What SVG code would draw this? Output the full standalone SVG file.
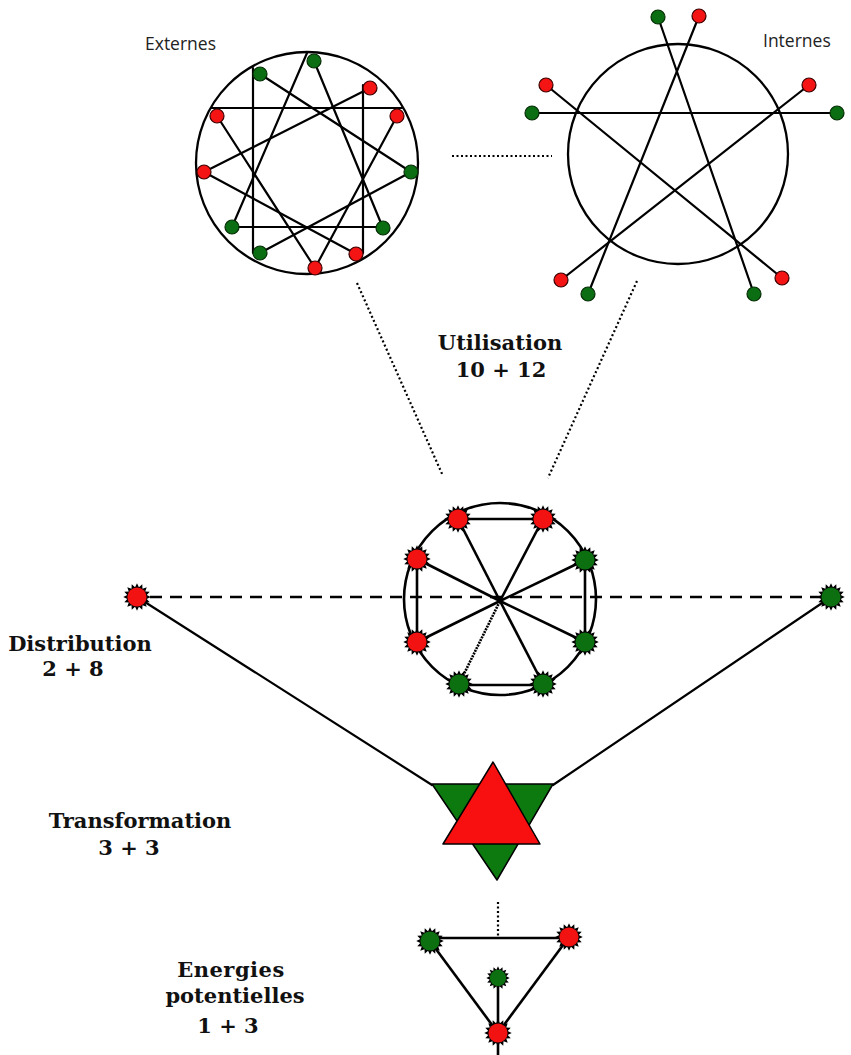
<svg xmlns="http://www.w3.org/2000/svg" xmlns:xlink="http://www.w3.org/1999/xlink" width="851" height="1055" viewBox="0 0 851 1055">
<style>
.ln{stroke:#000;stroke-width:2.2;fill:none;stroke-linecap:round}
.thick{stroke:#000;stroke-width:2.6;fill:none}
.dot{stroke:#000;stroke-width:2.2;fill:none;stroke-dasharray:2 2.5}
.ring{stroke:#000;stroke-width:2.3;fill:none}
.r{fill:#f41414;stroke:#3a0000;stroke-width:1.2}
.g{fill:#0b6e12;stroke:#062d06;stroke-width:1.2}
.lbl{font-family:"DejaVu Serif",serif;font-weight:bold;font-size:21px;fill:#111;text-anchor:middle}
.sans{font-family:"Open Sans","Liberation Sans",sans-serif;font-size:17.5px;fill:#222}
</style>
<defs>
<polygon id="burst" fill="#000" transform="scale(1.1)" points="12.5,0 8.83,1.76 11.55,4.78 7.48,5 8.84,8.84 5,7.48 4.78,11.55 1.76,8.83 0,12.5 -1.76,8.83 -4.78,11.55 -5,7.48 -8.84,8.84 -7.48,5 -11.55,4.78 -8.83,1.76 -12.5,0 -8.83,-1.76 -11.55,-4.78 -7.48,-5 -8.84,-8.84 -5,-7.48 -4.78,-11.55 -1.76,-8.83 0,-12.5 1.76,-8.83 4.78,-11.55 5,-7.48 8.84,-8.84 7.48,-5 11.55,-4.78 8.83,-1.76"/>
<g id="sr"><use href="#burst"/><circle r="9.6" fill="#f21212"/></g>
<g id="sg"><use href="#burst"/><circle r="9.6" fill="#0d7010"/></g>
</defs>
<rect width="851" height="1055" fill="#fff"/>

<g id="connectors">
<line class="dot" x1="452" y1="156" x2="552" y2="156"/>
<line class="dot" x1="357" y1="283" x2="443" y2="476"/>
<line class="dot" x1="637" y1="281" x2="548" y2="478"/>
<line class="thick" x1="150" y1="597" x2="822" y2="597" stroke-dasharray="12 8"/>
<line class="ln" stroke-width="1.5" x1="137" y1="597" x2="432" y2="785"/>
<line class="ln" stroke-width="1.5" x1="831" y1="597" x2="553" y2="785"/>
<line class="dot" x1="498" y1="902" x2="498" y2="937"/>
</g>

<g id="externes">
<text class="sans" x="145" y="50">Externes</text>
<circle class="ring" cx="307" cy="163" r="111"/>
<line class="ln" x1="307" y1="53" x2="232" y2="227"/>
<line class="ln" x1="314" y1="61" x2="383" y2="228"/>
<line class="ln" x1="232" y1="227" x2="383" y2="227"/>
<line class="ln" x1="260" y1="74" x2="411" y2="172"/>
<line class="ln" x1="253" y1="68" x2="253" y2="253"/>
<line class="ln" x1="411" y1="172" x2="260" y2="253"/>
<line class="ln" x1="370" y1="88" x2="204" y2="172"/>
<line class="ln" x1="363" y1="85" x2="363" y2="253"/>
<line class="ln" x1="204" y1="172" x2="356" y2="254"/>
<line class="ln" x1="211" y1="108" x2="402" y2="108"/>
<line class="ln" x1="217" y1="116" x2="315" y2="268"/>
<line class="ln" x1="397" y1="116" x2="315" y2="268"/>
<circle class="g" cx="314" cy="61" r="7"/>
<circle class="g" cx="260" cy="74" r="7"/>
<circle class="r" cx="370" cy="88" r="7"/>
<circle class="r" cx="217" cy="116" r="7"/>
<circle class="r" cx="397" cy="116" r="7"/>
<circle class="r" cx="204" cy="172" r="7"/>
<circle class="g" cx="411" cy="172" r="7"/>
<circle class="g" cx="232" cy="227" r="7"/>
<circle class="g" cx="383" cy="228" r="7"/>
<circle class="g" cx="260" cy="253" r="7"/>
<circle class="r" cx="356" cy="254" r="7"/>
<circle class="r" cx="315" cy="268" r="7"/>
</g>

<g id="internes">
<text class="sans" x="763" y="47">Internes</text>
<circle class="ring" cx="678" cy="154" r="110"/>
<line class="ln" x1="532" y1="113" x2="837" y2="113"/>
<line class="ln" x1="546" y1="85" x2="782" y2="278"/>
<line class="ln" x1="809" y1="85" x2="561" y2="280"/>
<line class="ln" x1="658" y1="17" x2="754" y2="294"/>
<line class="ln" x1="699" y1="16" x2="588" y2="294"/>
<circle class="g" cx="658" cy="17" r="7"/>
<circle class="r" cx="699" cy="16" r="7"/>
<circle class="r" cx="546" cy="85" r="7"/>
<circle class="g" cx="532" cy="113" r="7"/>
<circle class="r" cx="809" cy="85" r="7"/>
<circle class="g" cx="837" cy="113" r="7"/>
<circle class="r" cx="561" cy="280" r="7"/>
<circle class="g" cx="588" cy="294" r="7"/>
<circle class="g" cx="754" cy="294" r="7"/>
<circle class="r" cx="782" cy="278" r="7"/>
</g>

<g id="utilisation">
<text class="lbl" x="500" y="350">Utilisation</text>
<text class="lbl" x="501" y="377">10 + 12</text>
</g>

<g id="distribution">
<text class="lbl" x="80" y="651">Distribution</text>
<text class="lbl" x="73" y="676">2 + 8</text>
<use href="#sr" x="137" y="597"/>
<use href="#sg" x="831" y="597"/>
</g>

<g id="octagon">
<circle class="thick" cx="500" cy="599" r="96"/>
<line class="thick" x1="458" y1="519" x2="543" y2="519"/>
<line class="thick" x1="459" y1="685" x2="543" y2="685"/>
<line class="thick" x1="417" y1="559" x2="417" y2="642"/>
<line class="thick" x1="585" y1="560" x2="585" y2="642"/>
<line class="thick" x1="458" y1="519" x2="500" y2="601"/>
<line class="thick" x1="543" y1="519" x2="500" y2="601"/>
<line class="thick" x1="417" y1="559" x2="500" y2="601"/>
<line class="thick" x1="585" y1="560" x2="500" y2="601"/>
<line class="thick" x1="417" y1="642" x2="500" y2="601"/>
<line class="thick" x1="585" y1="642" x2="500" y2="601"/>
<line class="thick" x1="459" y1="684" x2="500" y2="601" stroke-dasharray="2 1"/>
<line class="thick" x1="543" y1="684" x2="500" y2="601"/>
<use href="#sr" x="458" y="519"/>
<use href="#sr" x="543" y="519"/>
<use href="#sr" x="417" y="559"/>
<use href="#sg" x="585" y="560"/>
<use href="#sr" x="417" y="642"/>
<use href="#sg" x="585" y="642"/>
<use href="#sg" x="459" y="684"/>
<use href="#sg" x="543" y="684"/>
</g>

<g id="transformation">
<text class="lbl" x="140" y="828">Transformation</text>
<text class="lbl" x="129" y="855">3 + 3</text>
<polygon points="432,784 553,784 497,880" fill="#0d7a10" stroke="#000" stroke-width="1.5" stroke-linejoin="round"/>
<polygon points="493,762 443,844 540,844" fill="#f80f0f" stroke="#000" stroke-width="1.5" stroke-linejoin="round"/>
</g>

<g id="energies">
<text class="lbl" x="231" y="977" letter-spacing="0.5">Energies</text>
<text class="lbl" x="235" y="1003">potentielles</text>
<text class="lbl" x="228" y="1033">1 + 3</text>
<line class="thick" x1="430" y1="938" x2="569" y2="938"/>
<line class="thick" x1="430" y1="941" x2="498" y2="1033"/>
<line class="thick" x1="569" y1="937" x2="498" y2="1033"/>
<line class="thick" x1="498" y1="978" x2="498" y2="1055"/>
<use href="#sg" x="430" y="941"/>
<use href="#sr" x="569" y="937"/>
<use href="#sg" transform="translate(498,978) scale(0.85)"/>
<use href="#sr" x="498" y="1033"/>
</g>
</svg>
